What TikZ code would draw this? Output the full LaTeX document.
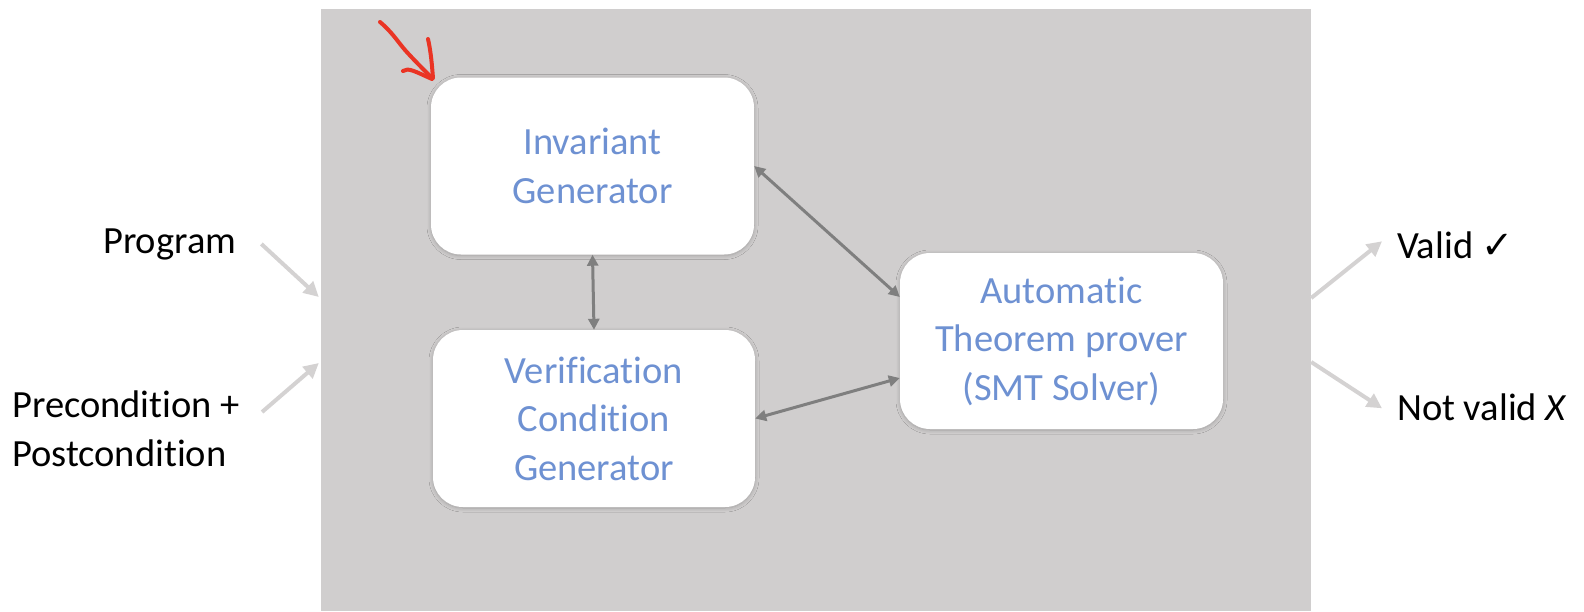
\documentclass[tikz,border=0pt]{standalone}
\usepackage{fontspec}
\setmainfont{Carlito}[RawFeature={-liga;-clig;-dlig;-calt}]
\newfontfamily\symfont{DejaVu Sans}
\usetikzlibrary{arrows.meta,shadows.blur}
\definecolor{bggray}{RGB}{208,206,206}
\definecolor{lightarrow}{RGB}{212,210,210}
\definecolor{darkarrow}{RGB}{127,127,127}
\definecolor{boxtext}{RGB}{110,145,210}
\definecolor{redmark}{RGB}{234,52,36}
\begin{document}
\begin{tikzpicture}[x=1pt,y=-1pt,
  comp/.style={fill=white, rounded corners=30pt, minimum width=323pt, minimum height=177pt,
    align=center, inner sep=0pt, text=boxtext, font=\fontsize{38.5}{48.5}\selectfont,
    blur shadow={shadow xshift=0pt, shadow yshift=-1pt, shadow blur radius=4pt, shadow blur steps=10, shadow opacity=22}},
  lbl/.style={inner sep=0pt, text=black, font=\fontsize{38.5}{48.5}\selectfont},
  darrow/.style={draw=darkarrow, line width=3pt, {Triangle[length=11pt,width=11pt]}-{Triangle[length=11pt,width=11pt]}},
  larrow/.style={draw=lightarrow, line width=4pt, -{Triangle[length=15pt,width=15pt]}},
  redstroke/.style={draw=redmark, line width=4pt, line cap=round, line join=round}
]
\useasboundingbox (0,0) rectangle (1584,611);
\node[fill=bggray, minimum width=990pt, minimum height=602pt, inner sep=0pt] (bg) at (816,310) {};

\node[comp] (ig) at (592.5,166) {Invariant\\Generator};
\node[comp, minimum width=322pt] (vc) at (594,418.5) {Verification\\Condition\\Generator};
\node[comp, minimum height=176pt] (atp) at (1061.5,341) {Automatic\\Theorem prover\\(SMT Solver)};

\node[lbl, anchor=base west] (prog) at (103,253) {Program};
\node[lbl, anchor=west, align=left] (pre) at (12,429) {Precondition +\\Postcondition};
\node[lbl, anchor=base west] (valid) at (1397,258) {Valid {\symfont ✓}};
\node[lbl, anchor=base west] (notvalid) at (1397,420) {Not valid {\itshape X}};

\draw[darrow] (ig.south) -- (vc.north);
\draw[darrow] (ig.east) -- ([yshift=44pt]atp.west);
\draw[darrow] (vc.east) -- ([yshift=-37pt]atp.west);

\draw[larrow] ([xshift=25pt]prog.east) -- ([xshift=-2pt,yshift=13pt]bg.west);
\draw[larrow] ([xshift=22pt,yshift=17pt]pre.east) -- ([xshift=-2pt,yshift=-53pt]bg.west);
\draw[larrow] ([yshift=12pt]bg.east) -- ([xshift=-15pt,yshift=3.5pt]valid.west);
\draw[larrow] ([yshift=-52pt]bg.east) -- ([xshift=-15pt,yshift=-1.5pt]notvalid.west);

\draw[redstroke] (380,22) .. controls (392,32) and (398,42) .. (405,50)
  .. controls (413,59) and (424,70) .. (432,78);
\draw[redstroke] (428,39) .. controls (431,52) and (432,66) .. (433,78);
\draw[redstroke] (403,71) .. controls (408,67) and (416,72) .. (432,79);
\end{tikzpicture}
\end{document}
